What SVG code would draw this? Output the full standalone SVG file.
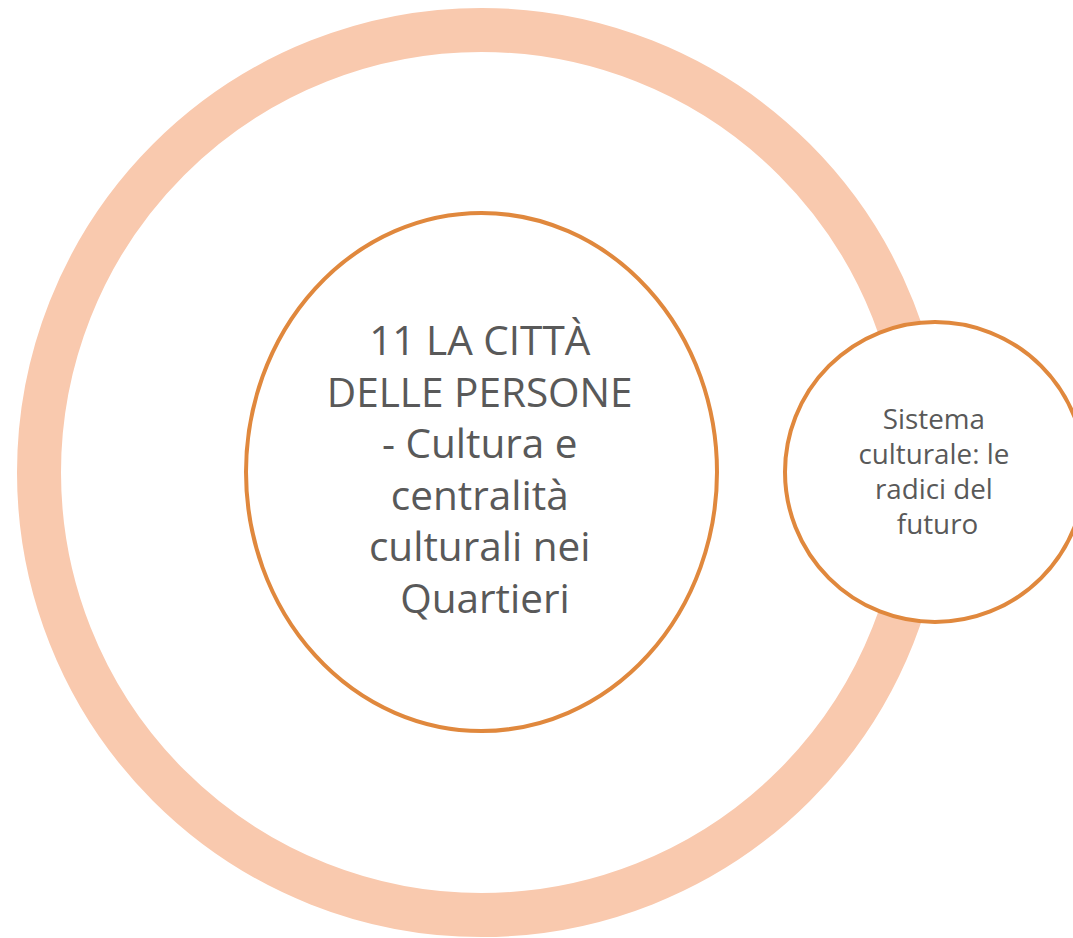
<svg xmlns="http://www.w3.org/2000/svg" width="1073" height="938" viewBox="0 0 1073 938">
  <style>
    .ring { fill: none; stroke: #F9C9AE; stroke-width: 44; }
    .node { fill: #FFFFFF; stroke: #E0883D; stroke-width: 4; }
    .label { font-family: "Open Sans", "Liberation Sans", sans-serif; fill: #595959; text-anchor: middle; }
    .big { font-size: 40.5px; }
    .small { font-size: 27.8px; }
  </style>
  <rect width="1073" height="938" fill="#FFFFFF"/>
  <g id="outer-ring">
    <circle class="ring" cx="481.5" cy="472.5" r="442.5"/>
  </g>
  <g id="connectors"></g>
  <g id="node-center">
    <ellipse class="node" cx="481.5" cy="472" rx="235.5" ry="259"/>
    <text class="label big">
      <tspan x="485" y="355">11 LA CITTÀ</tspan>
      <tspan x="485" y="406.5">DELLE PERSONE</tspan>
      <tspan x="485" y="458">- Cultura e</tspan>
      <tspan x="485" y="509.5">centralità</tspan>
      <tspan x="485" y="561">culturali nei</tspan>
      <tspan x="485" y="612.5">Quartieri</tspan>
    </text>
  </g>
  <g id="node-sistema">
    <circle class="node" cx="935" cy="472" r="150"/>
    <text class="label small">
      <tspan x="937.5" y="429">Sistema</tspan>
      <tspan x="937.5" y="464">culturale: le</tspan>
      <tspan x="937.5" y="499">radici del</tspan>
      <tspan x="937.5" y="534">futuro</tspan>
    </text>
  </g>
</svg>
